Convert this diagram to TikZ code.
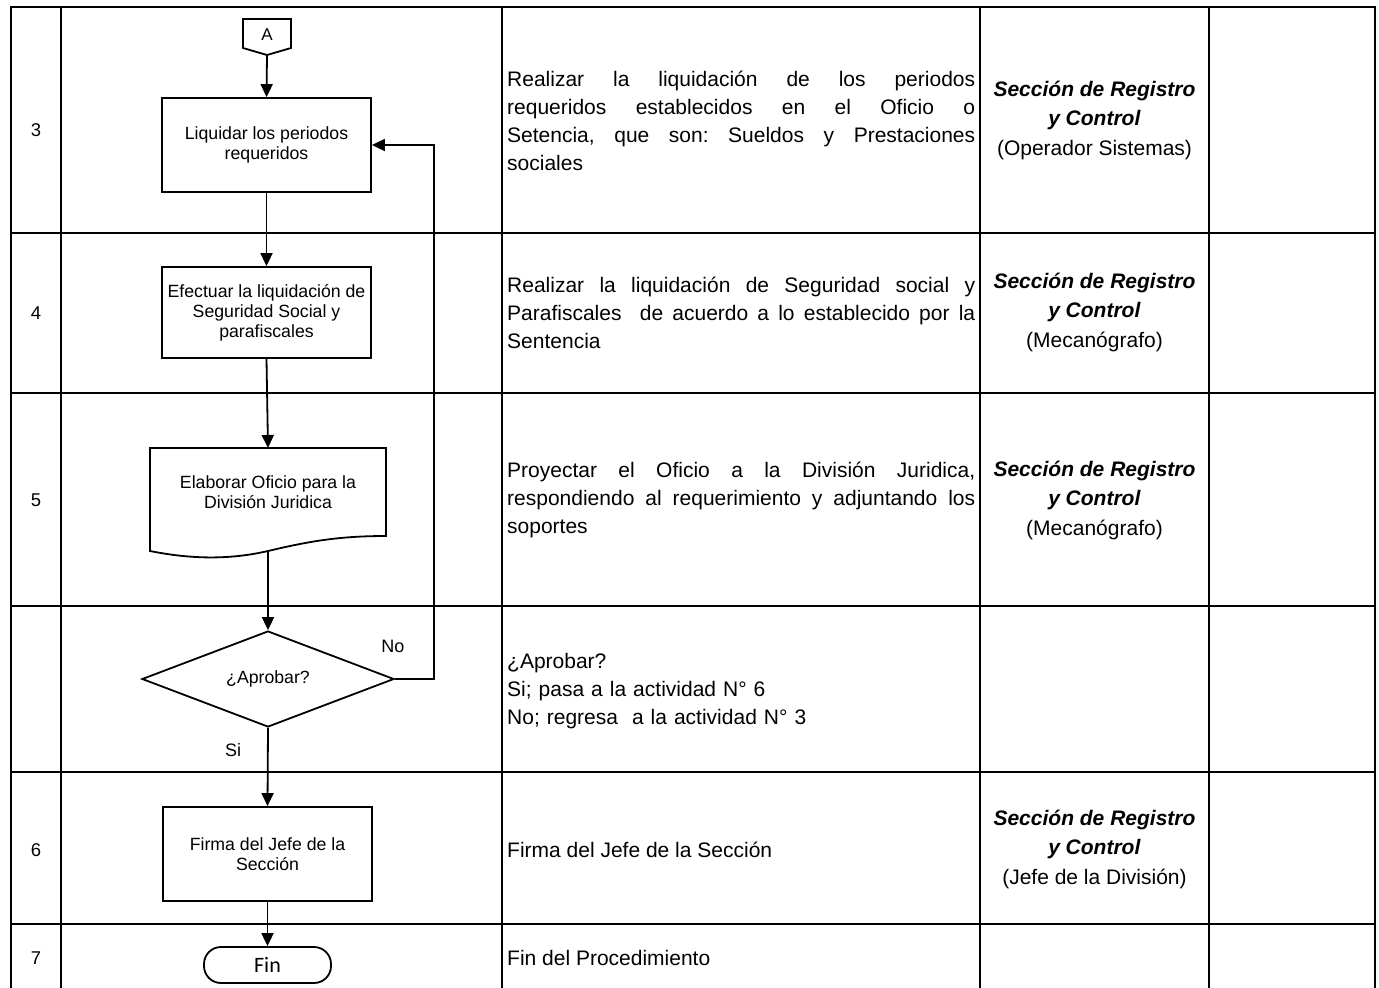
\documentclass[tikz,border=0pt]{standalone}
\usepackage{fontspec}
\setmainfont{Liberation Sans}
\newfontfamily\calfont{Carlito}
\usetikzlibrary{arrows.meta,shapes.geometric}
\frenchspacing
\begin{document}
\frenchspacing
\begin{tikzpicture}[x=1pt,y=-1pt,
  grid/.style={line width=2.8pt,line cap=rect},
  flow/.style={line width=1.8pt},
  arr/.style={flow,-{Triangle[length=13pt,width=12pt]}},
  procbox/.style={draw,line width=1.8pt,rectangle,minimum width=209pt,inner sep=2pt,align=center,font=\fontsize{17.7}{20}\selectfont},
  desc/.style={anchor=west,inner sep=0pt,text width=468pt,align=justify,font=\fontsize{21}{28}\selectfont},
  role/.style={inner sep=0pt,align=center,font=\fontsize{21}{29.5}\selectfont},
  num/.style={inner sep=0pt,font=\fontsize{18.5}{20}\selectfont},
  lbl/.style={inner sep=0pt,font=\fontsize{18}{20}\selectfont}]
\useasboundingbox (0,0) rectangle (1379,988);
% table
\draw[grid] (11,1000) -- (11,7) -- (1375,7) -- (1375,1000);
\foreach \xx in {61,502,980,1209} \draw[grid] (\xx,7) -- (\xx,1000);
\foreach \yy in {233,393,606,772,924} \draw[grid] (11,\yy) -- (1375,\yy);
% row numbers
\node[num] (n3) at (36,130) {3};
\node[num] (n4) at (36,313) {4};
\node[num] (n5) at (36,500) {5};
\node[num] (n6) at (36,850) {6};
\node[num] (n7) at (36,958) {7};
% connector A
\draw[flow,fill=white] (243,19) -- (291,19) -- (291,48) -- (267,55) -- (243,48) -- cycle;
\node[inner sep=0pt,font=\fontsize{17}{20}\selectfont] (A) at (267,35) {A};
\coordinate (Abot) at (267,55);
% boxes
\node[procbox,minimum height=94pt] (b3) at (266.5,145) {Liquidar los periodos\\requeridos};
\node[procbox,minimum height=91pt] (b4) at (266.5,312.5) {Efectuar la liquidación de\\Seguridad Social y\\parafiscales};
% document shape
\draw[flow] (150,448) -- (386,448) -- (386,536)
  .. controls (340,536) and (310,541) .. (268,551)
  .. controls (225,561) and (185,558) .. (150,551) -- cycle;
\node[inner sep=0pt,align=center,font=\fontsize{17.7}{20}\selectfont] (b5) at (268,492) {Elaborar Oficio para la\\División Juridica};
\coordinate (b5top) at (268,448);
\coordinate (b5bot) at (268,551);
% decision
\node[draw,flow,diamond,aspect=2.6,inner sep=0pt,minimum width=252pt,minimum height=96pt,font=\fontsize{17.7}{20}\selectfont] (dec) at (268,679) {\raisebox{3pt}{¿Aprobar?}};
\node[procbox,minimum height=94pt] (b6) at (267.5,854) {Firma del Jefe de la\\Sección};
\node[draw,flow,rectangle,rounded corners=17pt,minimum width=127pt,minimum height=36pt,inner sep=0pt,font=\calfont\fontsize{22}{24}\selectfont] (fin) at (267.5,965) {Fin};
% connectors
\draw[arr] (Abot) -- (b3.north);
\draw[arr] (b3.south) -- (b4.north);
\draw[arr] (b4.south) -- (b5top);
\draw[arr] (b5bot) -- (dec.north);
\draw[arr] (dec.south) -- (b6.north);
\draw[arr] (b6.south) -- (fin.north);
\draw[arr] (dec.east) -- (434,679) -- (434,145) -- (b3.east);
\node[lbl] (no) at (393,646) {No};
\node[lbl] (si) at (233,750) {Si};
% descriptions
\node[desc] (d3) at (507,121) {Realizar la liquidación de los periodos\linebreak requeridos establecidos en el Oficio o\linebreak Setencia, que son: Sueldos y Prestaciones\linebreak sociales};
\node[desc] (d4) at (507,313) {Realizar la liquidación de Seguridad social y\linebreak Parafiscales\ \ de acuerdo a lo establecido por la\linebreak Sentencia};
\node[desc] (d5) at (507,500) {Proyectar el Oficio a la División Juridica,\linebreak respondiendo al requerimiento y adjuntando los\linebreak soportes};
\node[desc,align=left] (dd) at (507,691) {¿Aprobar?\\Si; pasa a la actividad N° 6\\No; regresa\ \ a la actividad N° 3};
\node[desc] (d6) at (507,850) {Firma del Jefe de la Sección};
\node[desc] (d7) at (507,958) {Fin del Procedimiento};
% roles
\node[role] (r3) at (1094.5,120) {\textbf{\textit{Sección de Registro}}\\\textbf{\textit{y Control}}\\(Operador Sistemas)};
\node[role] (r4) at (1094.5,312) {\textbf{\textit{Sección de Registro}}\\\textbf{\textit{y Control}}\\(Mecanógrafo)};
\node[role] (r5) at (1094.5,500) {\textbf{\textit{Sección de Registro}}\\\textbf{\textit{y Control}}\\(Mecanógrafo)};
\node[role] (r6) at (1094.5,849) {\textbf{\textit{Sección de Registro}}\\\textbf{\textit{y Control}}\\(Jefe de la División)};
\end{tikzpicture}
\end{document}
